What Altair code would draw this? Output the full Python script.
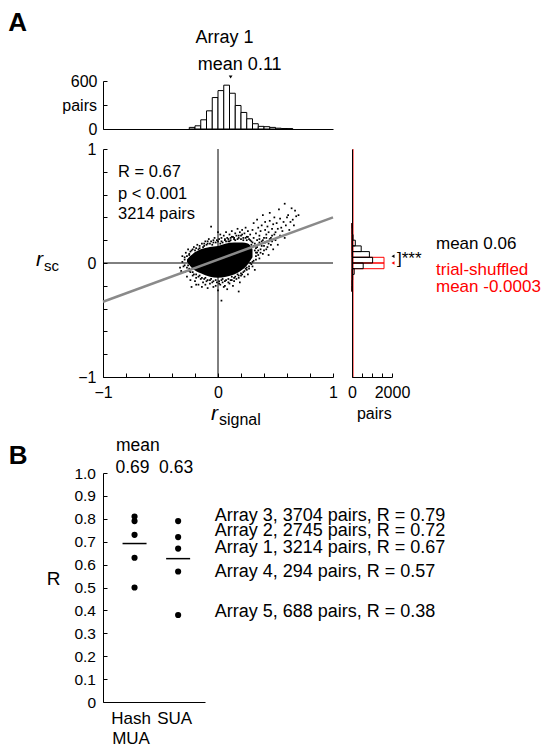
import altair as alt
import pandas as pd

FONT = "Liberation Sans"

# ---------------- data: panel A ----------------
# top histogram of r_signal
sig_bin_lo = [-0.25, -0.20, -0.15, -0.10, -0.05, 0.00, 0.05, 0.10, 0.15, 0.20, 0.25, 0.30, 0.35, 0.40, 0.45, 0.50, 0.55, 0.60]
sig_bin_hi = [-0.20, -0.15, -0.10, -0.05, 0.00, 0.05, 0.10, 0.15, 0.20, 0.25, 0.30, 0.35, 0.40, 0.45, 0.50, 0.55, 0.60, 0.65]
sig_counts = [20, 40, 115, 227, 393, 480, 548, 447, 294, 207, 128, 66, 33, 29, 20, 10, 6, 5]
sig_mean = 0.11

# right histograms of r_sc (observed and trial-shuffled)
sc_bin_lo = [-0.25, -0.20, -0.15, -0.10, -0.05, 0.00, 0.05, 0.10, 0.15, 0.20, 0.25, 0.30]
sc_bin_hi = [-0.20, -0.15, -0.10, -0.05, 0.00, 0.05, 0.10, 0.15, 0.20, 0.25, 0.30, 0.35]
sc_counts = [3, 10, 30, 110, 560, 1030, 870, 460, 165, 50, 20, 8]
shuf_counts = [0, 0, 2, 8, 1600, 1600, 10, 2, 0, 0, 0, 0]
sc_mean = 0.06
shuf_mean = -0.0003

# regression line end points
reg_x = [-1.0, 1.0]
reg_y = [-0.34, 0.40]

# dense core of the scatter cloud (lower / upper r_sc edge per r_signal)
core_x = [-0.27, -0.22, -0.15, -0.07, 0.00, 0.07, 0.14, 0.21, 0.26, 0.30]
core_lo = [0.01, -0.05, -0.09, -0.12, -0.13, -0.12, -0.10, -0.06, -0.01, 0.05]
core_hi = [0.03, 0.08, 0.12, 0.14, 0.15, 0.17, 0.18, 0.18, 0.17, 0.12]

# sparser individual pairs around the core (r_signal, r_sc)
halo_pts = [
    # left end
    (-0.33, -0.04), (-0.31, 0.01), (-0.30, -0.03), (-0.29, 0.05), (-0.29, -0.08), (-0.28, 0.09),
    (-0.27, -0.12), (-0.26, 0.12), (-0.25, -0.07), (-0.25, 0.08), (-0.24, -0.15), (-0.23, -0.21),
    (-0.23, 0.11), (-0.22, -0.11), (-0.21, 0.14), (-0.20, -0.16), (-0.20, 0.05), (-0.19, -0.13),
    (-0.18, 0.16), (-0.17, -0.19), (-0.31, 0.06), (-0.26, -0.02), (-0.32, -0.07),
    # lower band
    (-0.15, -0.14), (-0.14, -0.21), (-0.13, -0.17), (-0.11, -0.19), (-0.10, -0.16), (-0.09, -0.22),
    (-0.07, -0.18), (-0.05, -0.17), (-0.04, -0.21), (-0.02, -0.20), (0.00, -0.24), (0.01, -0.18),
    (0.02, -0.19), (0.04, -0.17), (0.05, -0.21), (0.06, -0.20), (0.08, -0.23), (0.09, -0.17),
    (0.10, -0.18), (0.12, -0.15), (0.13, -0.20), (0.14, -0.16), (0.16, -0.14), (0.18, -0.13),
    (0.19, -0.17), (0.20, -0.11), (0.22, -0.08), (0.23, -0.12), (0.25, -0.06), (0.26, -0.10),
    (0.27, -0.05), (0.29, -0.01), (0.30, -0.03), (0.32, -0.06), (0.03, -0.33), (0.18, -0.25),
    (-0.19, -0.19),
    # just below the core
    (-0.29, -0.02), (-0.27, -0.04), (-0.25, -0.05), (-0.24, -0.08), (-0.22, -0.08), (-0.21, -0.10),
    (-0.19, -0.10), (-0.17, -0.12), (-0.16, -0.11), (-0.14, -0.13), (-0.12, -0.14), (-0.11, -0.13),
    (-0.09, -0.15), (-0.07, -0.15), (-0.06, -0.14), (-0.04, -0.16), (-0.02, -0.15), (-0.01, -0.17),
    (0.01, -0.16), (0.03, -0.15), (0.04, -0.14), (0.06, -0.16), (0.07, -0.15), (0.09, -0.14),
    (0.11, -0.15), (0.12, -0.12), (0.14, -0.13), (0.15, -0.12), (0.17, -0.10), (0.18, -0.11),
    (0.20, -0.09), (0.21, -0.10), (0.23, -0.07), (0.24, -0.05), (0.25, -0.04), (0.27, -0.03),
    (0.28, 0.00), (0.30, 0.01), (0.31, 0.02), (0.33, 0.03), (0.33, 0.06),
    # just above the core
    (-0.29, 0.03), (-0.27, 0.06), (-0.25, 0.07), (-0.24, 0.10), (-0.22, 0.12), (-0.20, 0.11),
    (-0.19, 0.13), (-0.17, 0.12), (-0.16, 0.15), (-0.13, 0.14), (-0.12, 0.17), (-0.10, 0.16),
    (-0.09, 0.19), (-0.07, 0.17), (-0.05, 0.16), (-0.04, 0.20), (-0.02, 0.18), (0.00, 0.19),
    (0.02, 0.17), (0.03, 0.22), (0.04, 0.18), (0.06, 0.20), (0.07, 0.19), (0.09, 0.21),
    (0.10, 0.19), (0.11, 0.20), (0.12, 0.23), (0.14, 0.22), (0.15, 0.20), (0.17, 0.21),
    (0.18, 0.24), (0.20, 0.21), (0.21, 0.25), (0.22, 0.20), (0.24, 0.22), (0.25, 0.20),
    (0.26, 0.23), (0.28, 0.20), (0.29, 0.16), (0.30, 0.18), (0.31, 0.15), (0.32, 0.11),
    (0.33, 0.09), (0.34, 0.14), (0.35, 0.11),
    # upper band
    (-0.16, 0.13), (-0.14, 0.17), (-0.12, 0.15), (-0.11, 0.19), (-0.09, 0.17), (-0.08, 0.21),
    (-0.06, 0.19), (-0.04, 0.18), (-0.03, 0.22), (-0.01, 0.20), (0.01, 0.21), (0.02, 0.25),
    (0.03, 0.19), (0.05, 0.24), (0.06, 0.21), (0.07, 0.27), (0.08, 0.22), (0.09, 0.19),
    (0.10, 0.25), (0.11, 0.22), (0.12, 0.28), (0.13, 0.23), (0.14, 0.21), (0.15, 0.26),
    (0.16, 0.24), (0.17, 0.30), (0.18, 0.22), (0.19, 0.27), (0.20, 0.24), (0.21, 0.29),
    (0.22, 0.22), (0.23, 0.26), (0.24, 0.31), (0.25, 0.23), (0.26, 0.28), (0.27, 0.21),
    (0.28, 0.25), (0.29, 0.19), (0.30, 0.29), (0.31, 0.22), (0.32, 0.17), (0.33, 0.26),
    (-0.06, 0.32), (0.00, 0.27),
    # right tail
    (0.35, 0.07), (0.36, 0.18), (0.37, 0.09), (0.38, 0.15), (0.39, 0.20), (0.40, 0.11),
    (0.41, 0.18), (0.42, 0.22), (0.43, 0.14), (0.44, 0.17), (0.46, 0.22), (0.47, 0.19),
    (0.49, 0.25), (0.36, 0.21),
    (0.33, 0.13), (0.34, 0.20), (0.34, 0.09), (0.35, 0.31), (0.35, 0.16), (0.36, 0.24),
    (0.36, 0.04), (0.37, 0.12), (0.37, 0.28), (0.38, 0.19), (0.38, 0.33), (0.39, 0.08),
    (0.40, 0.22), (0.40, 0.15), (0.41, 0.29), (0.41, 0.36), (0.42, 0.12), (0.42, 0.25),
    (0.43, 0.19), (0.43, 0.32), (0.44, 0.27), (0.44, 0.07), (0.45, 0.37), (0.45, 0.21),
    (0.46, 0.16), (0.47, 0.30), (0.47, 0.24), (0.48, 0.12), (0.48, 0.34), (0.49, 0.40),
    (0.50, 0.20), (0.50, 0.27), (0.51, 0.35), (0.52, 0.16), (0.52, 0.30), (0.53, 0.47),
    (0.54, 0.39), (0.54, 0.24), (0.55, 0.31), (0.56, 0.28), (0.57, 0.36), (0.58, 0.52),
    (0.58, 0.22), (0.59, 0.33), (0.60, 0.40), (0.61, 0.42), (0.62, 0.29), (0.63, 0.36),
    (0.64, 0.48), (0.65, 0.38), (0.66, 0.33), (0.67, 0.46), (0.68, 0.41), (0.70, 0.42),
    (0.34, 0.38), (0.39, 0.42), (0.45, 0.44), (0.31, 0.35),
]

stat_lines = ["R = 0.67", "p < 0.001", "3214 pairs"]

# ---------------- data: panel B ----------------
groups = ["Hash MUA", "SUA"]
hash_R = [0.81, 0.79, 0.73, 0.63, 0.50]
sua_R = [0.79, 0.72, 0.67, 0.57, 0.38]
array_labels = [
    "Array 3, 3704 pairs, R = 0.79",
    "Array 2, 2745 pairs, R = 0.72",
    "Array 1, 3214 pairs, R = 0.67",
    "Array 4, 294 pairs, R = 0.57",
    "Array 5, 688 pairs, R = 0.38",
]

# ---------------- helpers ----------------
ONE = pd.DataFrame({"d": [0]})
INWARD = {"expr": "-4"}


def ax(**kw):
    base = dict(title=None, grid=False, domainColor="black", tickColor="black",
                labelColor="black", labelFont=FONT, domainWidth=1, tickWidth=1)
    base.update(kw)
    return alt.Axis(**base)


def txt(s, x, y, size=16, align="left", baseline="middle", color="black",
        weight="normal", style="normal"):
    return alt.Chart(ONE).mark_text(
        text=s, align=align, baseline=baseline, fontSize=size, font=FONT,
        color=color, fontWeight=weight, fontStyle=style
    ).encode(x=alt.value(x), y=alt.value(y))


def spacer(h):
    return alt.Chart(ONE).mark_point(opacity=0, size=1).encode(
        x=alt.value(0), y=alt.value(0)).properties(width=1, height=h)


# ---------------- top histogram ----------------
xs_sig = alt.Scale(domain=[-1, 1], nice=False)
ax_top_x = ax(labels=False, ticks=False)
top_df = pd.DataFrame({"lo": sig_bin_lo, "hi": sig_bin_hi, "n": sig_counts})
top_bars = alt.Chart(top_df).mark_rect(fill="white", stroke="black", strokeWidth=1).encode(
    x=alt.X("lo:Q", scale=xs_sig, axis=ax_top_x),
    x2="hi:Q",
    y=alt.Y("n:Q", scale=alt.Scale(domain=[0, 600], nice=False),
            axis=ax(values=[0, 300, 600], labelExpr="datum.value == 300 ? '' : datum.label",
                    tickSize=INWARD, labelPadding=10, labelFontSize=16)),
    y2=alt.datum(0),
)
top_mean = alt.Chart(pd.DataFrame({"lo": [sig_mean]})).mark_point(
    shape="triangle-down", filled=True, size=14, color="black", opacity=1
).encode(x=alt.X("lo:Q", scale=xs_sig, axis=ax_top_x), y=alt.value(-4))

top_hist = alt.layer(
    top_bars, top_mean,
    txt("A", -94.7, -50.3, size=26, weight="bold", baseline="alphabetic"),
    txt("Array 1", 121.5, -43.3, size=18, align="center"),
    txt("mean %.2f" % sig_mean, 136.7, -15.6, size=18, align="center"),
    txt("pairs", -6, 24.7, size=16, align="right"),
).properties(width=230, height=48)

# ---------------- scatter ----------------
xs = alt.Scale(domain=[-1, 1], nice=False)
ys = alt.Scale(domain=[-1, 1], nice=False)
tick_vals = [-1, -0.8, -0.6, -0.4, -0.2, 0, 0.2, 0.4, 0.6, 0.8, 1]
lab_expr = "datum.value == -1 ? '\u22121' : datum.value == 0 ? '0' : datum.value == 1 ? '1' : ''"
ax_sx = ax(values=tick_vals, labelExpr=lab_expr, tickSize=INWARD,
           labelPadding=11, labelFontSize=16, labelFlush=False)
ax_sy = ax(values=tick_vals, labelExpr=lab_expr, tickSize=INWARD,
           labelPadding=11, labelFontSize=16, labelFlush=False)

pts_df = pd.DataFrame(halo_pts, columns=["x", "y"])
core_df = pd.DataFrame({"x": core_x, "y": core_lo, "hi": core_hi})
reg_df = pd.DataFrame({"x": reg_x, "y": reg_y})
zero_df = pd.DataFrame({"x": [0.0], "y": [0.0]})

pts = alt.Chart(pts_df).mark_square(size=3, color="black", opacity=1).encode(
    x=alt.X("x:Q", scale=xs, axis=ax_sx),
    y=alt.Y("y:Q", scale=ys, axis=ax_sy),
)
zero_v = alt.Chart(zero_df).mark_rule(color="black", strokeWidth=1).encode(
    x=alt.X("x:Q", scale=xs, axis=ax_sx))
zero_h = alt.Chart(zero_df).mark_rule(color="black", strokeWidth=1).encode(
    y=alt.Y("y:Q", scale=ys, axis=ax_sy))
core = alt.Chart(core_df).mark_area(color="black", interpolate="monotone", opacity=1).encode(
    x=alt.X("x:Q", scale=xs, axis=ax_sx),
    y=alt.Y("y:Q", scale=ys, axis=ax_sy),
    y2="hi:Q",
)
reg = alt.Chart(reg_df).mark_line(color="#8a8a8a", strokeWidth=2.5).encode(
    x=alt.X("x:Q", scale=xs, axis=ax_sx), y=alt.Y("y:Q", scale=ys, axis=ax_sy))

scatter = alt.layer(
    zero_v, zero_h, pts, core, reg,
    txt(stat_lines[0], 15, 23, size=16.5),
    txt(stat_lines[1], 15, 45, size=16.5),
    txt(stat_lines[2], 15, 65, size=16.5),
    txt("r", -67, 117, size=21, style="italic", baseline="alphabetic"),
    txt("sc", -59, 122, size=15, baseline="alphabetic"),
    txt("r", 108, 271, size=21, style="italic", baseline="alphabetic"),
    txt("signal", 116, 276, size=16, baseline="alphabetic"),
).properties(width=230, height=228)

# ---------------- right histogram ----------------
xs_n = alt.Scale(domain=[0, 2000], nice=False)
ax_rx = ax(values=[0, 500, 1000, 1500, 2000],
           labelExpr="datum.value == 0 ? '0' : datum.value == 2000 ? '2000' : ''",
           tickSize=INWARD, labelPadding=11, labelFontSize=16, labelFlush=False)
ax_ry = ax(labels=False, ticks=False, zindex=1)
rh_df = pd.DataFrame({"lo": sc_bin_lo, "hi": sc_bin_hi, "obs": sc_counts, "shuf": shuf_counts})
red_bars = alt.Chart(rh_df).mark_rect(fillOpacity=0, stroke="red", strokeWidth=1).encode(
    x=alt.X("shuf:Q", scale=xs_n, axis=ax_rx),
    x2=alt.datum(0),
    y=alt.Y("lo:Q", scale=ys, axis=ax_ry),
    y2="hi:Q",
)
blk_bars = alt.Chart(rh_df).mark_rect(fillOpacity=0, stroke="black", strokeWidth=1).encode(
    x=alt.X("obs:Q", scale=xs_n, axis=ax_rx),
    x2=alt.datum(0),
    y=alt.Y("lo:Q", scale=ys, axis=ax_ry),
    y2="hi:Q",
)
red_edge = alt.Chart(ONE).mark_rule(color="red", strokeWidth=1, xOffset=1).encode(
    x=alt.value(0))
mean_obs = alt.Chart(pd.DataFrame({"lo": [sc_mean]})).mark_point(
    shape="triangle-left", filled=True, size=12, color="black", opacity=1
).encode(x=alt.value(41), y=alt.Y("lo:Q", scale=ys, axis=ax_ry))
mean_shuf = alt.Chart(pd.DataFrame({"lo": [shuf_mean]})).mark_point(
    shape="triangle-left", filled=True, size=12, color="red", opacity=1
).encode(x=alt.value(41), y=alt.Y("lo:Q", scale=ys, axis=ax_ry))

right_hist = alt.layer(
    red_bars, red_edge, blk_bars, mean_obs, mean_shuf,
    txt("]***", 45, 109.7, size=17),
    txt("mean %.2f" % sc_mean, 84, 94.7, size=17),
    txt("trial-shuffled", 84, 121.3, size=17, color="red"),
    txt("mean %s" % shuf_mean, 84, 138, size=17, color="red"),
    txt("pairs", 22.3, 264.7, size=16, align="center"),
).properties(width=40, height=228)

# ---------------- panel B ----------------
b_df = pd.DataFrame({
    "group": [groups[0]] * len(hash_R) + [groups[1]] * len(sua_R),
    "R": hash_R + sua_R,
})
xb = alt.Scale(type="point", domain=groups, padding=0.67, align=0.54)
yb = alt.Scale(domain=[0, 1], nice=False)
yb_vals = [0, 0.1, 0.2, 0.3, 0.4, 0.5, 0.6, 0.7, 0.8, 0.9, 1.0]
ax_bx = ax(labelExpr="split(datum.label, ' ')", labelAngle=0, ticks=False,
           labelPadding=8, labelFontSize=17, labelLineHeight=20,
           labelAlign="center", labelBaseline="top", labelOffset=-4)
ax_by = ax(values=yb_vals,
           labelExpr="datum.value == 0 ? '0' : format(datum.value, '.1f')",
           tickSize=INWARD, labelPadding=11.5, labelFontSize=15.5)

dots = alt.Chart(b_df).mark_circle(size=38, color="black", opacity=1).encode(
    x=alt.X("group:N", scale=xb, axis=ax_bx),
    y=alt.Y("R:Q", scale=yb, axis=ax_by),
)
mean_ticks = alt.Chart(b_df).mark_tick(color="black", thickness=1.5, size=24).encode(
    x=alt.X("group:N", scale=xb, axis=ax_bx),
    y=alt.Y("mean(R):Q", scale=yb, axis=ax_by),
)
mean_txt = alt.Chart(b_df).mark_text(fontSize=17.5, font=FONT, baseline="middle", dx=-2).encode(
    x=alt.X("group:N", scale=xb, axis=ax_bx),
    y=alt.value(-5),
    text=alt.Text("mean(R):Q", format=".2f"),
)
label_y = [43.4, 58, 75, 99, 139]
arr_layers = [txt(s, 111.7, yy, size=18) for s, yy in zip(array_labels, label_y)]

panel_b = alt.layer(
    dots, mean_ticks, mean_txt,
    txt("B", -94.3, -9.3, size=26, weight="bold", baseline="alphabetic"),
    txt("mean", 13, -26.6, size=17.5),
    txt("R", -49.3, 105.7, size=19, align="center"),
    *arr_layers,
).properties(width=102, height=229)

# ---------------- layout ----------------
chart = alt.concat(
    top_hist, spacer(1),
    scatter, right_hist,
    spacer(56), spacer(1),
    panel_b, spacer(1),
    columns=2, bounds="flush", align="each",
    spacing={"row": 20, "column": 19},
).properties(padding={"left": 0, "top": 1, "right": 0, "bottom": 0}).configure_view(stroke=None)

chart.save("out.html", embed_options={"renderer": "svg", "actions": False})
